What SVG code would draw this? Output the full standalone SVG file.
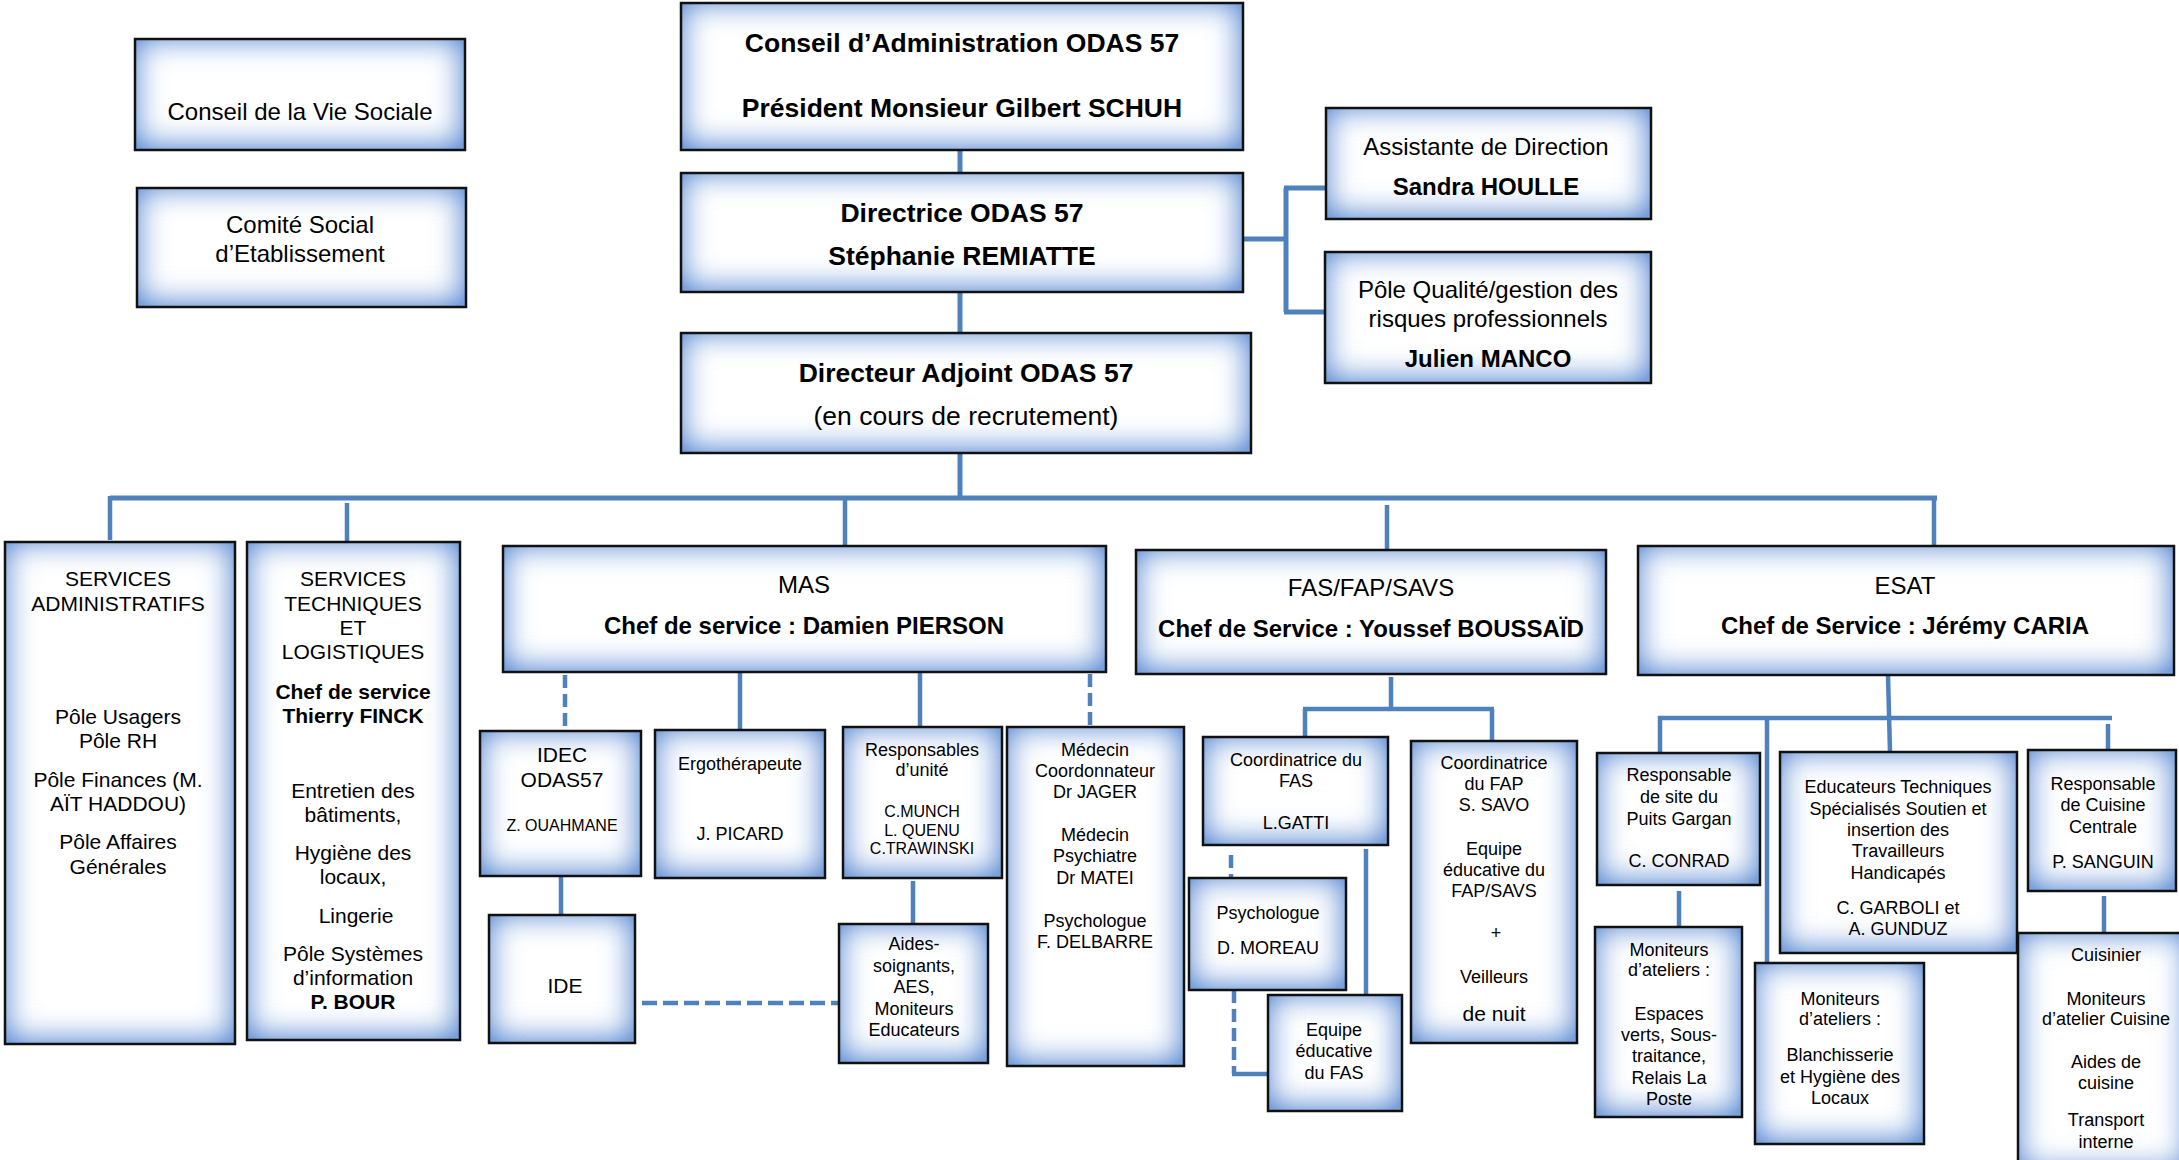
<svg xmlns="http://www.w3.org/2000/svg" width="2179" height="1160" viewBox="0 0 2179 1160">
<defs>
<filter id="glow" x="-0.5" y="-0.5" width="2" height="2" color-interpolation-filters="sRGB">
<feFlood flood-color="#7aa0db" result="c"/>
<feComposite in="c" in2="SourceAlpha" operator="out" result="outside"/>
<feOffset in="outside" dx="-1" dy="-2" result="off"/>
<feGaussianBlur in="off" stdDeviation="16" result="b"/>
<feComponentTransfer in="b" result="b2"><feFuncA type="linear" slope="1.5"/></feComponentTransfer>
<feComposite in="b2" in2="SourceAlpha" operator="in" result="inner"/>
<feMerge><feMergeNode in="SourceGraphic"/><feMergeNode in="inner"/></feMerge>
</filter>
<style>
.bg{fill:#fff;stroke:none;filter:url(#glow)}
.bd{fill:none;stroke:#111;stroke-width:2.5}
.c{fill:none;stroke:#4f81bd;stroke-width:4.5}
.m{stroke-width:5}
.d{stroke-dasharray:13 6}
text{font-family:"Liberation Sans",Arial,sans-serif;text-anchor:middle;fill:#000}
.b{font-weight:bold}
.s26{font-size:26.5px}
.s24{font-size:24px}
.s21{font-size:21px}
.s18{font-size:18px}
.s16{font-size:16px}
</style>
</defs>
<rect width="2179" height="1160" fill="#fff"/>
<g id="connectors">
<path class="c m" d="M960 150V173M960 292V333M960 453V498"/>
<path class="c m" d="M110 498H1937"/>
<path class="c" d="M110 496V540M347 503V542M845 498V546M1387 505V550M1934 498V546"/>
<path class="c m" d="M1243 239H1286M1286 188V312M1284 188H1326M1284 312H1325"/>
<path class="c d" d="M565 675V731"/>
<path class="c" d="M740 672V730M920 672V727M561 876V915M913 881V924"/>
<path class="c d" d="M1090 674V727"/>
<path class="c d" d="M642 1003H839" style="stroke-dasharray:15 6"/>
<path class="c" d="M564.5 604L563.5 609" style="stroke-width:2"/>
<path class="c" d="M1391 677V709M1303 709H1494M1305 709V737M1492 709V741M1366 849V997"/>
<path class="c d" d="M1231 855V878M1234 990V1074"/>
<path class="c" d="M1232 1074H1268"/>
<path class="c" d="M1888 675L1890 752M1658 718H2112M1660 716V753M1767 716V963M2108 724V750M1679 891V927M2104 896V933"/>
</g>
<g id="cvs"><rect class="bg" x="135" y="39" width="330" height="111"/><rect class="bd" x="135" y="39" width="330" height="111"/>
<text class="s24" x="300" y="120">Conseil de la Vie Sociale</text></g>
<g id="cse"><rect class="bg" x="137" y="188" width="329" height="119"/><rect class="bd" x="137" y="188" width="329" height="119"/>
<text class="s24" x="300" y="233">Comité Social</text><text class="s24" x="300" y="262">d’Etablissement</text></g>
<g id="ca"><rect class="bg" x="681" y="3" width="562" height="147"/><rect class="bd" x="681" y="3" width="562" height="147"/>
<text class="s26 b" x="962" y="52">Conseil d’Administration ODAS 57</text><text class="s26 b" x="962" y="117">Président Monsieur Gilbert SCHUH</text></g>
<g id="dir"><rect class="bg" x="681" y="173" width="562" height="119"/><rect class="bd" x="681" y="173" width="562" height="119"/>
<text class="s26 b" x="962" y="222">Directrice ODAS 57</text><text class="s26 b" x="962" y="265">Stéphanie REMIATTE</text></g>
<g id="adj"><rect class="bg" x="681" y="333" width="570" height="120"/><rect class="bd" x="681" y="333" width="570" height="120"/>
<text class="s26 b" x="966" y="382">Directeur Adjoint ODAS 57</text><text class="s26" x="966" y="425">(en cours de recrutement)</text></g>
<g id="assist"><rect class="bg" x="1326" y="108" width="325" height="111"/><rect class="bd" x="1326" y="108" width="325" height="111"/>
<text class="s24" x="1486" y="155">Assistante de Direction</text><text class="s24 b" x="1486" y="195">Sandra HOULLE</text></g>
<g id="qual"><rect class="bg" x="1325" y="252" width="326" height="131"/><rect class="bd" x="1325" y="252" width="326" height="131"/>
<text class="s24" x="1488" y="298">Pôle Qualité/gestion des</text><text class="s24" x="1488" y="327">risques professionnels</text><text class="s24 b" x="1488" y="367">Julien MANCO</text></g>
<g id="admin"><rect class="bg" x="5" y="542" width="230" height="502"/><rect class="bd" x="5" y="542" width="230" height="502"/>
<text class="s21" x="118" y="586">SERVICES</text><text class="s21" x="118" y="611">ADMINISTRATIFS</text>
<text class="s21" x="118" y="724">Pôle Usagers</text><text class="s21" x="118" y="748">Pôle RH</text>
<text class="s21" x="118" y="787">Pôle Finances (M.</text><text class="s21" x="118" y="811">AÏT HADDOU)</text>
<text class="s21" x="118" y="849">Pôle Affaires</text><text class="s21" x="118" y="874">Générales</text></g>
<g id="tech"><rect class="bg" x="247" y="542" width="213" height="498"/><rect class="bd" x="247" y="542" width="213" height="498"/>
<text class="s21" x="353" y="586">SERVICES</text><text class="s21" x="353" y="611">TECHNIQUES</text><text class="s21" x="353" y="635">ET</text><text class="s21" x="353" y="659">LOGISTIQUES</text>
<text class="s21 b" x="353" y="699">Chef de service</text><text class="s21 b" x="353" y="723">Thierry FINCK</text>
<text class="s21" x="353" y="798">Entretien des</text><text class="s21" x="353" y="822">bâtiments,</text>
<text class="s21" x="353" y="860">Hygiène des</text><text class="s21" x="353" y="884">locaux,</text>
<text class="s21" x="356" y="923">Lingerie</text>
<text class="s21" x="353" y="961">Pôle Systèmes</text><text class="s21" x="353" y="985">d’information</text><text class="s21 b" x="353" y="1009">P. BOUR</text></g>
<g id="mas"><rect class="bg" x="503" y="546" width="603" height="126"/><rect class="bd" x="503" y="546" width="603" height="126"/>
<text class="s24" x="804" y="593">MAS</text><text class="s24 b" x="804" y="634">Chef de service : Damien PIERSON</text></g>
<g id="idec"><rect class="bg" x="480" y="731" width="161" height="145"/><rect class="bd" x="480" y="731" width="161" height="145"/>
<text class="s21" x="562" y="762">IDEC</text><text class="s21" x="562" y="787">ODAS57</text><text class="s16" x="562" y="831">Z. OUAHMANE</text></g>
<g id="ide"><rect class="bg" x="489" y="915" width="146" height="128"/><rect class="bd" x="489" y="915" width="146" height="128"/>
<text class="s21" x="565" y="993">IDE</text></g>
<g id="ergo"><rect class="bg" x="655" y="730" width="170" height="148"/><rect class="bd" x="655" y="730" width="170" height="148"/>
<text class="s18" x="740" y="770">Ergothérapeute</text><text class="s18" x="740" y="840">J. PICARD</text></g>
<g id="resp"><rect class="bg" x="843" y="727" width="159" height="151"/><rect class="bd" x="843" y="727" width="159" height="151"/>
<text class="s18" x="922" y="756">Responsables</text><text class="s18" x="922" y="776">d’unité</text>
<text class="s16" x="922" y="817">C.MUNCH</text><text class="s16" x="922" y="836">L. QUENU</text><text class="s16" x="922" y="854">C.TRAWINSKI</text></g>
<g id="aides"><rect class="bg" x="839" y="924" width="149" height="139"/><rect class="bd" x="839" y="924" width="149" height="139"/>
<text class="s18" x="914" y="950">Aides-</text><text class="s18" x="914" y="972">soignants,</text><text class="s18" x="914" y="993">AES,</text><text class="s18" x="914" y="1015">Moniteurs</text><text class="s18" x="914" y="1036">Educateurs</text></g>
<g id="med"><rect class="bg" x="1007" y="727" width="177" height="339"/><rect class="bd" x="1007" y="727" width="177" height="339"/>
<text class="s18" x="1095" y="756">Médecin</text><text class="s18" x="1095" y="777">Coordonnateur</text><text class="s18" x="1095" y="798">Dr JAGER</text>
<text class="s18" x="1095" y="841">Médecin</text><text class="s18" x="1095" y="862">Psychiatre</text><text class="s18" x="1095" y="884">Dr MATEI</text>
<text class="s18" x="1095" y="927">Psychologue</text><text class="s18" x="1095" y="948">F. DELBARRE</text></g>
<g id="fas"><rect class="bg" x="1136" y="550" width="470" height="124"/><rect class="bd" x="1136" y="550" width="470" height="124"/>
<text class="s24" x="1371" y="596">FAS/FAP/SAVS</text><text class="s24 b" x="1371" y="637">Chef de Service : Youssef BOUSSAÏD</text></g>
<g id="cfas"><rect class="bg" x="1203" y="737" width="185" height="108"/><rect class="bd" x="1203" y="737" width="185" height="108"/>
<text class="s18" x="1296" y="766">Coordinatrice du</text><text class="s18" x="1296" y="787">FAS</text><text class="s18" x="1296" y="829">L.GATTI</text></g>
<g id="psy"><rect class="bg" x="1189" y="878" width="157" height="112"/><rect class="bd" x="1189" y="878" width="157" height="112"/>
<text class="s18" x="1268" y="919">Psychologue</text><text class="s18" x="1268" y="954">D. MOREAU</text></g>
<g id="eqfas"><rect class="bg" x="1268" y="995" width="134" height="116"/><rect class="bd" x="1268" y="995" width="134" height="116"/>
<text class="s18" x="1334" y="1036">Equipe</text><text class="s18" x="1334" y="1057">éducative</text><text class="s18" x="1334" y="1079">du FAS</text></g>
<g id="cfap"><rect class="bg" x="1411" y="741" width="166" height="302"/><rect class="bd" x="1411" y="741" width="166" height="302"/>
<text class="s18" x="1494" y="769">Coordinatrice</text><text class="s18" x="1494" y="790">du FAP</text><text class="s18" x="1494" y="811">S. SAVO</text>
<text class="s18" x="1494" y="855">Equipe</text><text class="s18" x="1494" y="876">éducative du</text><text class="s18" x="1494" y="897">FAP/SAVS</text>
<text class="s18" x="1496" y="939">+</text><text class="s18" x="1494" y="983">Veilleurs</text><text class="s21" x="1494" y="1021">de nuit</text></g>
<g id="esat"><rect class="bg" x="1638" y="546" width="536" height="129"/><rect class="bd" x="1638" y="546" width="536" height="129"/>
<text class="s24" x="1905" y="594">ESAT</text><text class="s24 b" x="1905" y="634">Chef de Service : Jérémy CARIA</text></g>
<g id="site"><rect class="bg" x="1597" y="753" width="163" height="132"/><rect class="bd" x="1597" y="753" width="163" height="132"/>
<text class="s18" x="1679" y="781">Responsable</text><text class="s18" x="1679" y="803">de site du</text><text class="s18" x="1679" y="825">Puits Gargan</text><text class="s18" x="1679" y="867">C. CONRAD</text></g>
<g id="monesp"><rect class="bg" x="1595" y="927" width="147" height="190"/><rect class="bd" x="1595" y="927" width="147" height="190"/>
<text class="s18" x="1669" y="956">Moniteurs</text><text class="s18" x="1669" y="976">d’ateliers :</text>
<text class="s18" x="1669" y="1020">Espaces</text><text class="s18" x="1669" y="1041">verts, Sous-</text><text class="s18" x="1669" y="1062">traitance,</text><text class="s18" x="1669" y="1084">Relais La</text><text class="s18" x="1669" y="1105">Poste</text></g>
<g id="monbl"><rect class="bg" x="1755" y="963" width="169" height="181"/><rect class="bd" x="1755" y="963" width="169" height="181"/>
<text class="s18" x="1840" y="1005">Moniteurs</text><text class="s18" x="1840" y="1025">d’ateliers :</text>
<text class="s18" x="1840" y="1061">Blanchisserie</text><text class="s18" x="1840" y="1083">et Hygiène des</text><text class="s18" x="1840" y="1104">Locaux</text></g>
<g id="educ"><rect class="bg" x="1780" y="752" width="237" height="201"/><rect class="bd" x="1780" y="752" width="237" height="201"/>
<text class="s18" x="1898" y="793">Educateurs Techniques</text><text class="s18" x="1898" y="815">Spécialisés Soutien et</text><text class="s18" x="1898" y="836">insertion des</text><text class="s18" x="1898" y="857">Travailleurs</text><text class="s18" x="1898" y="879">Handicapés</text>
<text class="s18" x="1898" y="914">C. GARBOLI et</text><text class="s18" x="1898" y="935">A. GUNDUZ</text></g>
<g id="rcuis"><rect class="bg" x="2028" y="750" width="148" height="141"/><rect class="bd" x="2028" y="750" width="148" height="141"/>
<text class="s18" x="2103" y="790">Responsable</text><text class="s18" x="2103" y="811">de Cuisine</text><text class="s18" x="2103" y="833">Centrale</text><text class="s18" x="2103" y="868">P. SANGUIN</text></g>
<g id="cuis"><rect class="bg" x="2018" y="933" width="172" height="240"/><rect class="bd" x="2018" y="933" width="172" height="240"/>
<text class="s18" x="2106" y="961">Cuisinier</text><text class="s18" x="2106" y="1005">Moniteurs</text><text class="s18" x="2106" y="1025">d’atelier Cuisine</text>
<text class="s18" x="2106" y="1068">Aides de</text><text class="s18" x="2106" y="1089">cuisine</text><text class="s18" x="2106" y="1126">Transport</text><text class="s18" x="2106" y="1148">interne</text></g>
</svg>
